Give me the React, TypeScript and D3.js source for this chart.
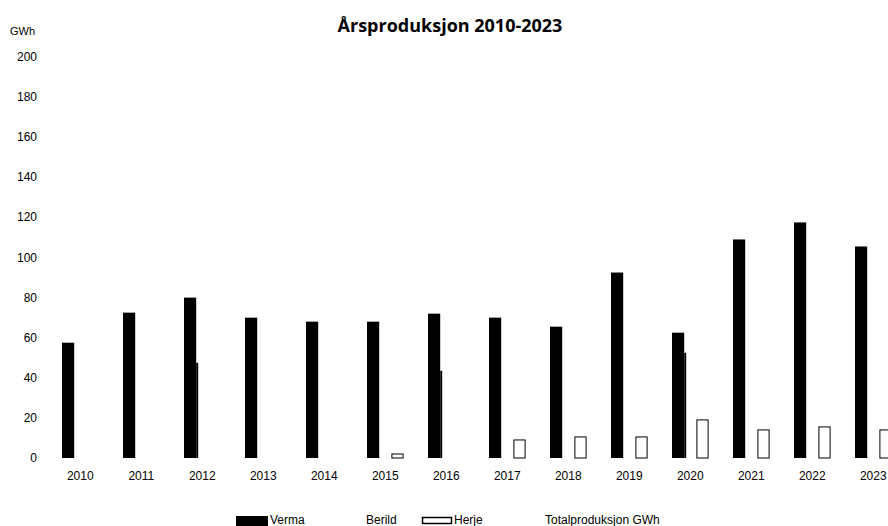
import React from "react";
import * as d3 from "d3";

const years = ["2010","2011","2012","2013","2014","2015","2016","2017","2018","2019","2020","2021","2022","2023"];
const verma = [57.5, 72.5, 80, 70, 68, 68, 72, 70, 65.5, 92.5, 62.5, 109, 117.5, 105.5];
const berild = [0, 0, 47.5, 0, 0, 0, 43.5, 0, 0, 0, 52.5, 0, 0, 0];
const herje = [0, 0, 0, 0, 0, 2, 0, 9, 10.5, 10.5, 19, 14, 15.5, 14];
const yTicks = [0, 20, 40, 60, 80, 100, 120, 140, 160, 180, 200];
const legendItems = ["Verma", "Berild", "Herje", "Totalproduksjon GWh"];

const W = 888;
const H = 526;
const font = "'Liberation Sans', Arial, sans-serif";

export default function App() {
  const x = d3.scaleBand<string>().domain(years).range([49.8, 903.8]).padding(0);
  const y = d3.scaleLinear().domain([0, 200]).range([458, 57]);
  const bw = x.bandwidth() / 5;
  const cx = (yr: string) => (x(yr) as number) + x.bandwidth() / 2;

  const legendX = [236, 332, 422, 510];

  return (
    <div style={{ position: "fixed", left: 0, top: 0, width: W, height: H, background: "#fff" }}>
      <svg width={W} height={H} style={{ display: "block" }}>
        <rect x={0} y={0} width={W} height={H} fill="#fff" />
        <text x={450} y={32} textAnchor="middle" fontFamily="'Open Sans', sans-serif" fontWeight="bold" fontSize={18} fill="#000">
          Årsproduksjon 2010-2023
        </text>
        <text x={10} y={35} fontFamily={font} fontSize={11} fill="#000">GWh</text>
        {yTicks.map((t) => (
          <text key={t} x={37} y={y(t) + 4} textAnchor="end" fontFamily={font} fontSize={12} fill="#000">
            {t}
          </text>
        ))}
        {years.map((yr, i) => {
          const c = cx(yr);
          return (
            <g key={yr}>
              <rect x={c - 1.5 * bw} y={y(verma[i])} width={bw} height={y(0) - y(verma[i])} fill="#000" />
              {berild[i] > 0 && (
                <g>
                  <rect x={c - 0.5 * bw} y={y(berild[i])} width={bw} height={y(0) - y(berild[i])} fill="#fff" />
                  <line x1={c - 0.5 * bw + 1} x2={c - 0.5 * bw + 1} y1={y(berild[i])} y2={y(0)} stroke="#000" strokeWidth={2} />
                </g>
              )}
              {herje[i] > 0 && (
                <rect x={c + 0.5 * bw + 0.5} y={y(herje[i])} width={bw - 1} height={y(0) - y(herje[i])} fill="#fff" stroke="#000" strokeWidth={1} />
              )}
              <text x={c} y={480} textAnchor="middle" fontFamily={font} fontSize={12} fill="#000">
                {yr}
              </text>
            </g>
          );
        })}
        {/* legend */}
        <rect x={legendX[0]} y={516} width={32} height={10} fill="#000" />
        <text x={270} y={524} fontFamily={font} fontSize={12} fill="#000">{legendItems[0]}</text>
        <text x={366} y={524} fontFamily={font} fontSize={12} fill="#000">{legendItems[1]}</text>
        <rect x={legendX[2] + 0.5} y={517.5} width={29} height={6} fill="#fff" stroke="#000" strokeWidth={1.5} />
        <text x={454} y={524} fontFamily={font} fontSize={12} fill="#000">{legendItems[2]}</text>
        <text x={545} y={524} fontFamily={font} fontSize={12} fill="#000">{legendItems[3]}</text>
      </svg>
    </div>
  );
}
